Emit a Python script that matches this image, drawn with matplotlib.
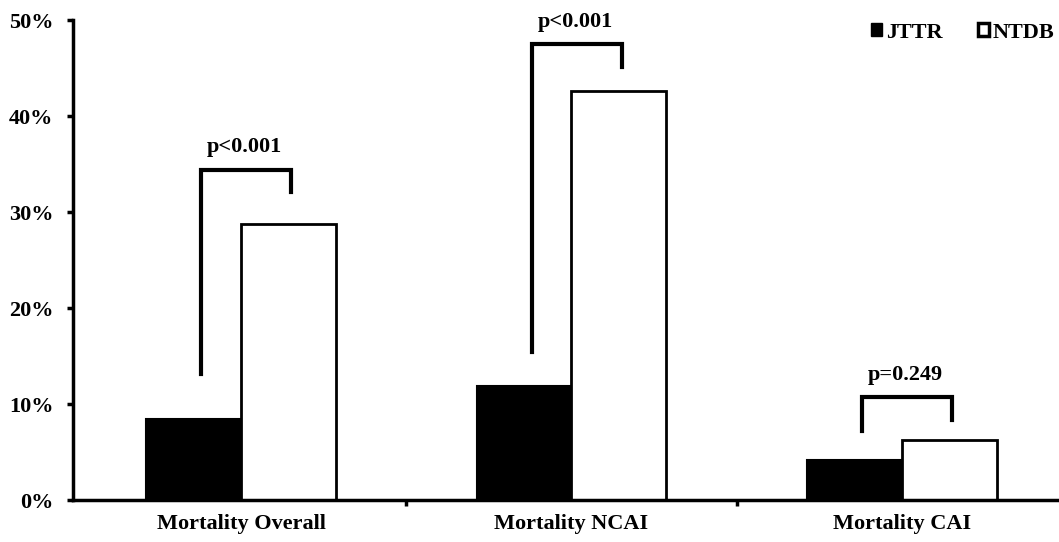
import numpy as np
import matplotlib.pyplot as plt
from matplotlib.patches import Patch

categories = ['Mortality Overall', 'Mortality NCAI', 'Mortality CAI']
jttr = [8.4, 11.9, 4.2]
ntdb = [28.7, 42.6, 6.2]
p_labels = ['p<0.001', 'p<0.001', 'p=0.249']
# bracket: top height, left leg bottom, right leg bottom
bracket_top = [34.4, 47.5, 10.7]
bracket_left = [13.1, 15.4, 7.2]
bracket_right = [32.1, 45.1, 8.3]

plt.rcParams['font.family'] = 'Liberation Serif'
plt.rcParams['font.weight'] = 'bold'

fig = plt.figure(figsize=(10.59, 5.42), dpi=100)
ax = fig.add_axes([73 / 1059, 1 - 500 / 542, 1 - 73 / 1059, 480 / 542])

x = np.arange(len(categories))
w = 0.287
ax.bar(x - w / 2, jttr, w, color='black', edgecolor='black', linewidth=1.5, label='JTTR')
ax.bar(x + w / 2, ntdb, w, color='white', edgecolor='black', linewidth=2, label='NTDB')

for i in range(len(categories)):
    xl = x[i] - 0.12
    xr = x[i] + 0.152
    ax.plot([xl, xl, xr, xr], [bracket_left[i], bracket_top[i], bracket_top[i], bracket_right[i]],
            color='black', lw=3, solid_joinstyle='miter', clip_on=False)
    ax.text((xl + xr) / 2 - 0.005, bracket_top[i] + 1.3, p_labels[i], ha='center', va='bottom',
            fontsize=16, fontweight='bold')

ax.set_xlim(-168 / 330.5, 2 + 157 / 330.5)
ax.set_ylim(0, 50)
ax.set_yticks(np.arange(0, 51, 10))
ax.set_yticklabels([f'{v}%' for v in range(0, 51, 10)], fontsize=16, fontweight='bold')
ax.set_xticks([0.5, 1.5], minor=False)
ax.set_xticklabels(['', ''])
ax.set_xticks(x, minor=True)
ax.set_xticklabels(categories, minor=True, fontsize=16, fontweight='bold')
ax.tick_params(axis='x', which='minor', length=0, pad=10)
ax.tick_params(axis='x', which='major', length=4, width=2.5, direction='out')
ax.tick_params(axis='y', length=4, width=2.5, direction='out', pad=10)

for s in ['top', 'right']:
    ax.spines[s].set_visible(False)
for s in ['left', 'bottom']:
    ax.spines[s].set_linewidth(2.5)

handles = [Patch(facecolor='black', edgecolor='black', linewidth=1),
           Patch(facecolor='white', edgecolor='black', linewidth=2.5)]
ax.legend(handles, ['JTTR', 'NTDB'], loc='upper right', bbox_to_anchor=(1.004, 1.013), ncol=2,
          frameon=False, handlelength=0.5, handleheight=0.55, handletextpad=0.15,
          columnspacing=1.6, borderaxespad=0.0,
          prop={'family': 'Liberation Serif', 'weight': 'bold', 'size': 16})

fig.savefig('out.png', dpi=100)
